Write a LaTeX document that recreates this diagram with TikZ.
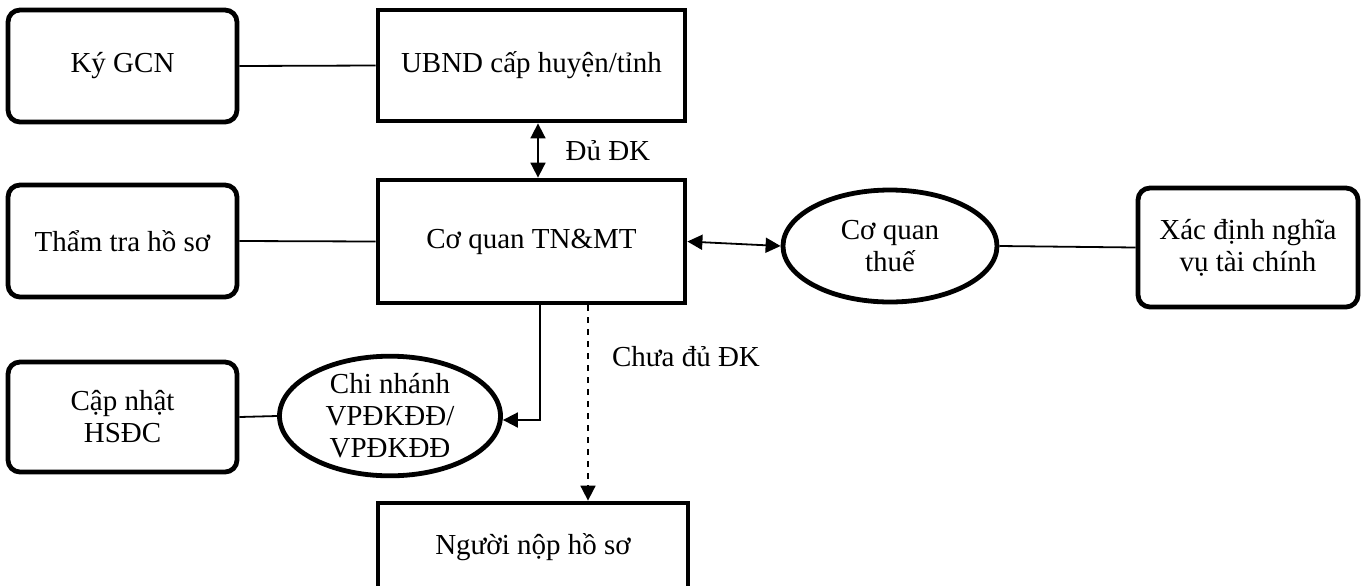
\documentclass[tikz,border=0pt]{standalone}
\usepackage{fontspec}
\setmainfont{Liberation Serif}
\usetikzlibrary{arrows.meta,shapes.geometric,calc}
\begin{document}
\begin{tikzpicture}[x=0.5pt,y=-0.5pt,
  font=\fontsize{14.5}{16}\selectfont,
  base/.style={draw=black,line width=2.4pt,align=center,inner sep=2pt},
  roundbox/.style={base,rectangle,rounded corners=6pt},
  squarebox/.style={base,rectangle},
  oval/.style={base,ellipse,inner sep=0pt},
  link/.style={line width=0.9pt},
  tip/.style={-{Triangle[length=7.5pt,width=7.5pt]}},
  twotip/.style={{Triangle[length=7.5pt,width=7.5pt]}-{Triangle[length=7.5pt,width=7.5pt]}}
]
\useasboundingbox (0,0) rectangle (1367,585);
\clip (0,0) rectangle (1367,585);

% left column: tasks
\node[roundbox,minimum width=114.5pt,minimum height=56pt] (ky) at (122.5,66) {Ký GCN};
\node[roundbox,minimum width=114.5pt,minimum height=56pt] (thamtra) at (122.5,241) {Thẩm tra hồ sơ};
\node[roundbox,minimum width=114.5pt,minimum height=55pt] (capnhat) at (122.5,417) {Cập nhật\\HSĐC};

% central column: agencies
\node[squarebox,minimum width=153.5pt,minimum height=55.5pt] (ubnd) at (531.5,65.5) {UBND cấp huyện/tỉnh};
\node[squarebox,minimum width=153.5pt,minimum height=61.5pt] (tnmt) at (531.5,241.5) {Cơ quan TN\&MT};
\node[squarebox,minimum width=155pt,minimum height=44pt] (nguoi) at (533,547) {Người nộp hồ sơ};

% offices
\node[oval,minimum width=110.5pt,minimum height=58.5pt] (chinhanh) at (390,416) {Chi nhánh\\VPĐKĐĐ/\\VPĐKĐĐ};
\node[oval,minimum width=107pt,minimum height=56pt] (thue) at (890,246) {Cơ quan\\thuế};

% right: tax obligation
\node[roundbox,minimum width=110pt,minimum height=59.5pt] (xacdinh) at (1248,247.5) {Xác định nghĩa\\vụ tài chính};

% connectors
\draw[link] (ky.east) -- (ubnd.west);
\draw[link] (thamtra.east) -- (tnmt.west);
\draw[link] (capnhat.east) -- (chinhanh.west);
\draw[link] (thue.east) -- (xacdinh.west);

\draw[link,twotip] ([xshift=3.25pt]ubnd.south) -- ([xshift=3.25pt]tnmt.north)
  node[midway,right=10pt] (dudk) {Đủ ĐK};
\draw[link,twotip] (tnmt.east) -- (thue.west);

\draw[link,tip] ([xshift=4.25pt]tnmt.south) |- ([yshift=-2pt]chinhanh.east);

\coordinate (dashtop) at ([xshift=28.25pt]tnmt.south);
\draw[link,dashed,tip] (dashtop) -- (dashtop |- nguoi.north);
\node[anchor=west] (chuadu) at (605,357) {Chưa đủ ĐK};
\end{tikzpicture}
\end{document}
